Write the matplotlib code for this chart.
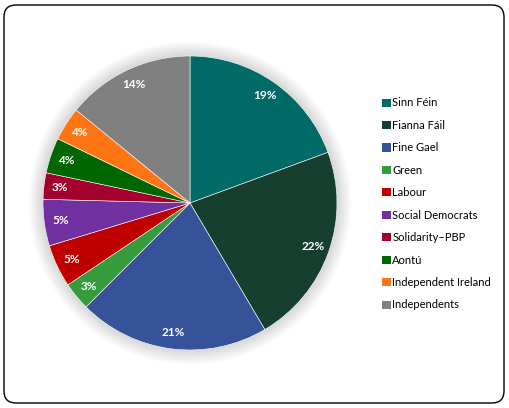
import matplotlib
matplotlib.use("Agg")
import matplotlib.pyplot as plt
from matplotlib.patches import FancyBboxPatch, Circle, Patch
from matplotlib.transforms import IdentityTransform

# Irish general election 2024 - first preference share
parties = ["Sinn Féin", "Fianna Fáil", "Fine Gael", "Green", "Labour",
           "Social Democrats", "Solidarity–PBP", "Aontú",
           "Independent Ireland", "Independents"]
shares = [19.4, 22.1, 21.0, 3.1, 4.7, 5.1, 2.9, 3.9, 3.7, 14.1]
colors = ["#006B66", "#173F30", "#365299", "#369B3A", "#C00000",
          "#7030A0", "#A3002D", "#006600", "#FF7514", "#808080"]

W, H = 509, 408
plt.rcParams["font.family"] = ["Lato", "DejaVu Sans"]

fig = plt.figure(figsize=(W / 100, H / 100), dpi=100)

# rounded outer frame (pixel coords), kept behind the axes
frame = FancyBboxPatch((4, 5), W - 9, H - 10,
                       boxstyle="round,pad=0,rounding_size=12",
                       transform=IdentityTransform(),
                       facecolor="white", edgecolor="black", linewidth=1.0,
                       zorder=-5)
fig.patches.append(frame)

cx, cy, r = 190, 203, 147
ax = fig.add_axes([(cx - r) / W, (H - cy - r) / H, 2 * r / W, 2 * r / H])
ax.set_zorder(1)
ax.patch.set_visible(False)

# soft shadow around the pie
for i in range(20):
    ax.add_patch(Circle((0, 0), 1.0 + 0.005 * (i + 1), facecolor="black",
                        edgecolor="none", alpha=0.008, zorder=0,
                        clip_on=False))

wedges, texts, autotexts = ax.pie(
    shares, colors=colors, startangle=90, counterclock=False,
    autopct="%.0f%%", pctdistance=0.89, radius=1.0,
    wedgeprops=dict(edgecolor="#ffffff", linewidth=0.4),
    textprops=dict(color="white", fontsize=8.5, fontweight="bold"))
for w in wedges:
    w.set_zorder(2)
for t in autotexts:
    t.set_zorder(3)

ax.set_xlim(-1, 1)
ax.set_ylim(-1, 1)
ax.set_aspect("equal")
ax.axis("off")

handles = [Patch(facecolor=c, edgecolor="none") for c in colors]
leg = fig.legend(handles, parties, loc="upper left",
                 bbox_to_anchor=(378 / W, 1 - 93 / H), frameon=False,
                 fontsize=8, handlelength=0.75, handleheight=0.75,
                 handletextpad=0.15, labelspacing=1.03, borderaxespad=0)
leg.set_zorder(2)

fig.savefig("out.png", dpi=100)
